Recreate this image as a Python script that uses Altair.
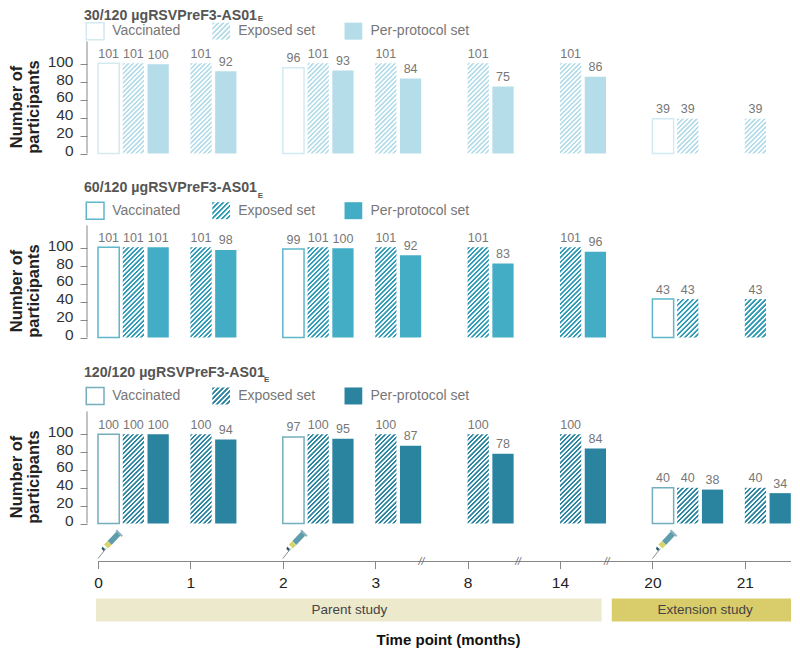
import altair as alt
import pandas as pd

GROUPS = ["0", "1", "2", "3", "8", "14", "20", "21"]
PANEL_TITLES = ["30/120 µgRSVPreF3-AS01", "60/120 µgRSVPreF3-AS01", "120/120 µgRSVPreF3-AS01"]
VACCINATED = [
    [101, None, 96, None, None, None, 39, None],
    [101, None, 99, None, None, None, 43, None],
    [100, None, 97, None, None, None, 40, None],
]
EXPOSED = [
    [101, 101, 101, 101, 101, 101, 39, 39],
    [101, 101, 101, 101, 101, 101, 43, 43],
    [100, 100, 100, 100, 100, 100, 40, 40],
]
PER_PROTOCOL = [
    [100, 92, 93, 84, 75, 86, None, None],
    [101, 98, 100, 92, 83, 96, None, None],
    [100, 94, 95, 87, 78, 84, 38, 34],
]
COLORS = ["#b5dde9", "#44adc6", "#2a84a0"]
OUTLINES = ["#d3eaf1", "#5fb6cb", "#74aebd"]
STRIPES = ["#b5dde9", "#2f9ab5", "#2a84a0"]
LEGEND_LABELS = ["Vaccinated", "Exposed set", "Per-protocol set"]
DOSES = [0, 2, 6]
BREAKS = [3.5, 4.545, 5.505]
STUDIES = ["Parent study", "Extension study"]

PX = 92.4               # pixels per time-point group
PLOT_W = 704
X_DOM = [-0.119, -0.119 + 704 / 92.4]
UNIT = 0.893            # pixels per participant
BAR_W = 0.23
STEP = 0.268
HEIGHTS = [145.5, 183.5, 185.5]
TITLE_Y = [154.5, 167, 168.5]
SUB_DROP = [3.5, 8, 8]
LEG_Y = [137, 142, 142.8]
SUB_X = [1.73, 1.73, 1.797]
x_scale = alt.Scale(domain=X_DOM, nice=False, zero=False)


def hatch(color, w, h, period=4.6):
    """Diagonal 45-degree stripes as a soft-stop linear gradient (avoids aliasing)."""
    r = w / h
    dy = (w + h) / (h * (r * r + 1))
    dx = r * dy
    n = int((w + h) / period)
    stops = []
    for i in range(n):
        stops += [
            {"offset": (i + 0.1) / n, "color": color}, {"offset": (i + 0.45) / n, "color": color},
            {"offset": (i + 0.6) / n, "color": "#ffffff"}, {"offset": (i + 0.95) / n, "color": "#ffffff"},
        ]
    return {"gradient": "linear", "x1": 0, "y1": 0, "x2": dx, "y2": dy, "stops": stops}


def panel(i):
    rows = []
    for g in range(len(GROUPS)):
        slot = 0
        for kind, series in enumerate((VACCINATED, EXPOSED, PER_PROTOCOL)):
            v = series[i][g]
            if v is None:
                continue
            rows.append({"x": g + slot * STEP, "x2": g + slot * STEP + BAR_W, "v": v, "kind": kind,
                         "mid": g + slot * STEP + BAR_W / 2,
                         "fill": hatch(STRIPES[i], BAR_W * PX, v * UNIT) if kind == 1 else None})
            slot += 1
    df = pd.DataFrame(rows)
    y_scale = alt.Scale(domain=[0, HEIGHTS[i] / UNIT], nice=False)
    y_axis = alt.Axis(
        values=[0, 20, 40, 60, 80, 100], domain=False, grid=False, tickSize=7, tickColor="#888888",
        labelFontSize=15.5, labelColor="#333333", labelPadding=7, labelFont="Liberation Sans",
        labelOverlap=False, labelFlush=False, labelBound=False, labelOffset=-3,
        title=["Number of", "participants"], titleFontSize=16.5, titleFont="Liberation Sans",
        titleFontWeight="bold", titleColor="#222222", titleLineHeight=17, titleBaseline="alphabetic",
        titleAnchor="middle", titleAlign="center", titleAngle=270,
        titleX=-66, titleY=HEIGHTS[i] - 47,
    )

    def Y(field):
        return alt.Y(field, scale=y_scale, axis=y_axis)

    def X(field):
        return alt.X(field, scale=x_scale, axis=None)

    base = alt.Chart(df)
    outline = base.transform_filter("datum.kind == 0").mark_rect(
        fill="#ffffff", stroke=OUTLINES[i], strokeWidth=1.5
    ).encode(
        x=X("x:Q"), x2="x2:Q",
        y=Y("v:Q"), y2=alt.datum(0),
    )
    hatched = base.transform_filter("datum.kind == 1").mark_rect().encode(
        x=X("x:Q"), x2="x2:Q",
        y=Y("v:Q"), y2=alt.datum(0),
        fill=alt.Fill("fill:N", scale=None, legend=None),
    )
    solid = base.transform_filter("datum.kind == 2").mark_rect(fill=COLORS[i]).encode(
        x=X("x:Q"), x2="x2:Q",
        y=Y("v:Q"), y2=alt.datum(0),
    )
    labels = base.mark_text(
        baseline="bottom", dy=-2.5, fontSize=12.5, color="#777777", font="Liberation Sans"
    ).encode(x=X("mid:Q"), y=Y("v:Q"), text="v:Q")
    axis_rule = alt.Chart(pd.DataFrame({"x": [X_DOM[0]], "a": [0], "b": [125.5]})).mark_rule(
        color="#888888", strokeWidth=1
    ).encode(x=X("x:Q"), y=Y("a:Q"), y2="b:Q")

    # panel heading with subscript
    head = alt.Chart(pd.DataFrame({"x": [-0.152], "y": [TITLE_Y[i]], "t": [PANEL_TITLES[i]]})).mark_text(
        align="left", baseline="middle", fontSize=14.2, fontWeight="bold", color="#555555", font="Liberation Sans"
    ).encode(x=X("x:Q"), y=Y("y:Q"), text="t:N")
    sub = alt.Chart(pd.DataFrame({"x": [SUB_X[i]], "y": [TITLE_Y[i] - SUB_DROP[i]], "t": ["E"]})).mark_text(
        align="left", baseline="middle", fontSize=8, fontWeight="bold", color="#555555", font="Liberation Sans"
    ).encode(x=X("x:Q"), y=Y("y:Q"), text="t:N")

    # legend
    lx = [-0.13, 1.234, 2.665]
    lw = 0.195
    ly = LEG_Y[i]
    half = 8.5 / UNIT
    leg_df = pd.DataFrame({"x": [a + 0.003 for a in lx], "x2": [a + lw for a in lx], "y": [ly - half] * 3,
                           "y2": [ly + half] * 3, "tx": [a + 0.283 for a in lx],
                           "t": LEGEND_LABELS, "k": [0, 1, 2],
                           "fill": [None, hatch(STRIPES[i], lw * PX, 2 * half * UNIT), None]})
    l0 = alt.Chart(leg_df).transform_filter("datum.k == 0").mark_rect(
        fill="#ffffff", stroke=OUTLINES[i], strokeWidth=1.5
    ).encode(x=X("x:Q"), x2="x2:Q", y=Y("y:Q"), y2="y2:Q")
    l1 = alt.Chart(leg_df).transform_filter("datum.k == 1").mark_rect().encode(
        x=X("x:Q"), x2="x2:Q", y=Y("y:Q"), y2="y2:Q",
        fill=alt.Fill("fill:N", scale=None, legend=None),
    )
    l2 = alt.Chart(leg_df).transform_filter("datum.k == 2").mark_rect(fill=COLORS[i]).encode(
        x=X("x:Q"), x2="x2:Q", y=Y("y:Q"), y2="y2:Q"
    )
    ltext = alt.Chart(leg_df).mark_text(
        align="left", baseline="middle", fontSize=14, color="#777777", font="Liberation Sans"
    ).encode(
        x=X("tx:Q"),
        y=Y("mid:Q"), text="t:N",
    ).transform_calculate(mid="(datum.y + datum.y2) / 2")
    return alt.layer(outline, hatched, solid, labels, axis_rule, head, sub, l0, l1, l2, ltext).properties(
        width=PLOT_W, height=HEIGHTS[i]
    )


def bottom():
    H = 123.5
    ys = alt.Scale(domain=[H, 0], nice=False)
    axis_y = 37.5
    tick_axis = alt.Axis(
        values=list(range(len(GROUPS))), labelExpr="['0','1','2','3','8','14','20','21'][datum.value]",
        domain=False, grid=False, tickSize=7, tickColor="#888888", offset=axis_y - H,
        labelFontSize=15.5, labelColor="#222222", labelPadding=7, labelFont="Liberation Sans",
        labelOverlap=False,
        title="Time point (months)", titleFontSize=15, titleFont="Liberation Sans", titleFontWeight="bold",
        titleColor="#111111", titleX=361, titleY=78, titleBaseline="middle",
    )

    def X(field):
        return alt.X(field, scale=x_scale, axis=tick_axis)

    def Y(field):
        return alt.Y(field, scale=ys, axis=None)

    line = alt.Chart(pd.DataFrame({"a": [0], "b": [X_DOM[1]], "y": [axis_y]})).mark_rule(
        color="#888888", strokeWidth=1
    ).encode(x=X("a:Q"), x2="b:Q", y=Y("y:Q"))
    brk = alt.Chart(pd.DataFrame({"x": BREAKS, "y": [axis_y] * 3, "t": ["//"] * 3})).mark_text(
        fontSize=10, fontStyle="italic", color="#666666", font="Liberation Sans", baseline="middle"
    ).encode(x=X("x:Q"), y=Y("y:Q"), text="t:N")
    band = alt.Chart(pd.DataFrame({"x": [-0.0216, 5.56], "x2": [5.45, X_DOM[1]], "y": [74.5, 74.5], "y2": [97.5, 97.5],
                                   "c": ["#ece9cc", "#d9cc6a"], "t": STUDIES,
                                   "m": [2.72, 6.57], "ty": [86, 86]}))
    bands = band.mark_rect().encode(
        x=X("x:Q"), x2="x2:Q", y=Y("y:Q"), y2="y2:Q",
        fill=alt.Fill("c:N", scale=None, legend=None),
    )
    band_text = band.mark_text(fontSize=13.5, color="#444444", font="Liberation Sans", baseline="middle").encode(
        x=X("m:Q"), y=Y("ty:Q"), text="t:N"
    )
    dose = alt.Chart(pd.DataFrame({"x": DOSES, "y": [21.5] * 3}))

    def syr(path, **kw):
        return dose.mark_point(shape=path, size=1600, xOffset=11, opacity=1, **kw).encode(
            x=X("x:Q"), y=Y("y:Q")
        )

    needle = syr("M-0.55 0.65L-0.15 0.15", stroke="#7f8f96", strokeWidth=1, filled=False)
    tip = syr("M-0.33 0.05L-0.2 0.17L-0.27 0.28L-0.37 0.18Z", fill="#2c5a66", filled=True, strokeWidth=0)
    barrel_y = syr("M-0.25 -0.05L-0.05 0.15L0.13 -0.03L-0.07 -0.23Z", fill="#d8d46c", filled=True, strokeWidth=0)
    barrel_t = syr("M-0.07 -0.23L0.13 -0.03L0.6 -0.52L0.4 -0.72Z", fill="#5f9dad", filled=True, strokeWidth=0)
    cap = syr("M0.36 -0.76L0.66 -0.46", stroke="#8fb6c0", strokeWidth=2, filled=False)
    return alt.layer(line, brk, bands, band_text, needle, barrel_t, barrel_y, tip, cap).properties(width=PLOT_W, height=H)


chart = alt.vconcat(panel(0), panel(1), panel(2), bottom(), spacing=0, padding=0, bounds="flush",
                    background="#ffffff").resolve_scale(
    x="independent", y="independent"
).configure_view(stroke=None).configure_axis(labelOverlap=False)

chart.save("out.html", embed_options={"renderer": "svg", "actions": False})
